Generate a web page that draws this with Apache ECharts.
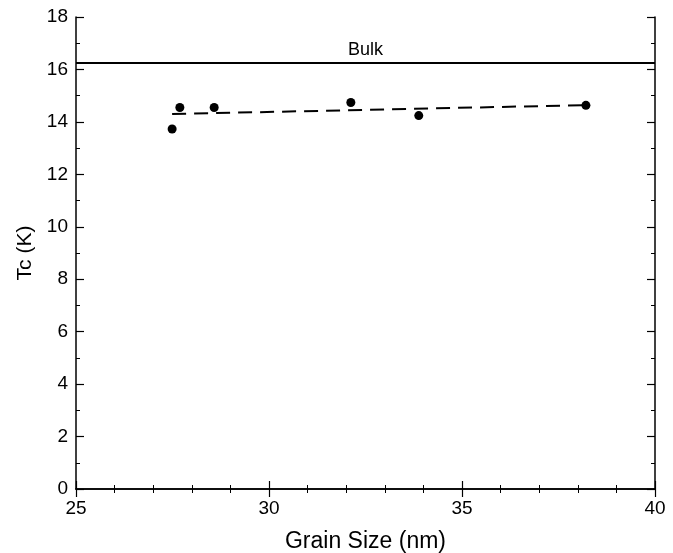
<!DOCTYPE html>
<html><head><meta charset="utf-8">
<script src="https://cdn.jsdelivr.net/npm/echarts@6/dist/echarts.min.js"></script>
<style>html,body{margin:0;padding:0;background:#fff}#c{width:673px;height:553px}</style>
</head><body><div id="c"></div>
<script>
const grainSize = [27.49, 27.69, 28.58, 32.12, 33.88, 38.21];
const tc = [13.73, 14.55, 14.55, 14.74, 14.24, 14.63];
const fitX = [27.49, 38.21];
const fitY = [14.30, 14.64];
const bulkTc = 16.27;
const font = 'Liberation Sans, Arial, sans-serif';
const chart = echarts.init(document.getElementById('c'));
const axisCommon = {
  axisLine: {show: true, lineStyle: {color: '#000', width: 1.5}},
  axisTick: {show: true, inside: true, length: 8, lineStyle: {color: '#000', width: 1.2}},
  splitLine: {show: false}
};
const minor = n => ({minorTick: {show: true, splitNumber: n, length: 4, lineStyle: {color: '#000', width: 1}}});
chart.setOption({
  animation: false,
  backgroundColor: '#fff',
  grid: {left: 76, right: 18, top: 17, bottom: 64, containLabel: false, outerBoundsMode: 'none'},
  xAxis: [
    Object.assign({type: 'value', min: 25, max: 40, interval: 5, position: 'bottom',
      name: 'Grain Size (nm)', nameLocation: 'middle', nameGap: 41,
      nameTextStyle: {fontFamily: font, fontSize: 23, color: '#000'},
      axisLabel: {fontFamily: font, fontSize: 19, color: '#000', margin: 10}}, axisCommon, minor(5)),
    Object.assign({type: 'value', min: 25, max: 40, interval: 5, position: 'top',
      axisLabel: {show: false}}, axisCommon, minor(5))
  ],
  yAxis: [
    Object.assign({type: 'value', min: 0, max: 18, interval: 2, position: 'left',
      name: 'Tc (K)', nameLocation: 'middle', nameGap: 39,
      nameTextStyle: {fontFamily: font, fontSize: 21, color: '#000'},
      axisLabel: {fontFamily: font, fontSize: 19, color: '#000', margin: 8}}, axisCommon, minor(2)),
    Object.assign({type: 'value', min: 0, max: 18, interval: 2, position: 'right',
      axisLabel: {show: false}}, axisCommon, minor(2))
  ],
  series: [
    {type: 'scatter', data: grainSize.map((x, i) => [x, tc[i]]), symbol: 'circle', symbolSize: 9,
      itemStyle: {color: '#000', opacity: 1}, z: 5},
    {type: 'line', data: fitX.map((x, i) => [x, fitY[i]]), symbol: 'none',
      lineStyle: {color: '#000', width: 2, type: [14, 8]}},
    {type: 'line', data: [], markLine: {silent: true, symbol: 'none',
      lineStyle: {color: '#000', width: 2, type: 'solid'},
      label: {show: true, position: 'insideMiddleTop', formatter: 'Bulk', fontFamily: font, fontSize: 18, color: '#000', distance: 3},
      data: [{yAxis: bulkTc}]}}
  ]
});
</script></body></html>
